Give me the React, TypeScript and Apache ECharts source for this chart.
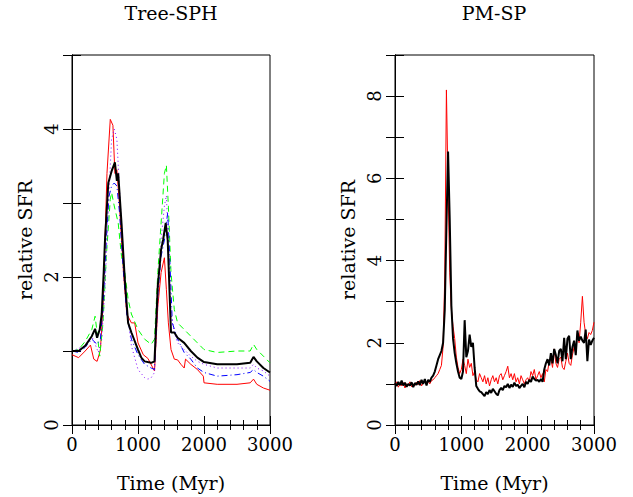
import React, { useEffect, useRef } from "react";
import * as echarts from "echarts";

const FONT = "DejaVu Serif";

// ---- Left panel (Tree-SPH) ----
const blackLT = [0,100,200,300,350,380,420,450,480,500,550,600,650,680,700,750,800,850,900,1000,1050,1100,1200,1250,1300,1350,1380,1420,1450,1500,1550,1600,1700,1800,1900,2000,2200,2500,2700,2750,2800,2900,3000];
const blackLV = [1.0,1.0,1.07,1.2,1.3,1.18,1.29,1.5,2.06,2.5,3.27,3.43,3.55,3.3,3.4,2.73,1.97,1.38,1.25,1.02,0.91,0.86,0.84,0.86,1.88,2.37,2.5,2.73,2.5,1.25,1.25,1.18,1.11,1.0,0.91,0.85,0.82,0.82,0.84,0.92,0.86,0.77,0.71];

const redLT = [0,100,200,280,330,380,430,470,530,580,620,650,680,720,780,830,900,950,1000,1080,1150,1250,1300,1350,1400,1430,1460,1500,1550,1600,1650,1700,1720,1800,1900,1990,2000,2200,2500,2700,2750,2800,2900,3000];
const redLV = [0.95,0.91,1.0,1.08,0.89,0.86,1.01,1.6,3.4,4.13,4.05,3.4,3.45,2.96,2.06,1.5,1.38,1.38,1.11,0.95,0.9,0.73,1.6,2.06,2.26,1.83,1.38,1.02,0.89,0.88,0.82,0.77,0.89,0.82,0.75,0.66,0.57,0.55,0.55,0.57,0.62,0.55,0.5,0.47];

const greenLT = [0,100,200,300,350,380,420,470,520,580,600,640,700,750,800,850,900,1000,1100,1200,1250,1300,1350,1400,1430,1460,1500,1550,1600,1700,1800,1900,2000,2200,2500,2700,2750,2800,2900,3000];
const greenLV = [1.0,1.02,1.13,1.29,1.47,1.25,0.93,1.38,2.28,3.05,3.14,2.96,2.73,2.28,2.06,1.7,1.5,1.29,1.16,1.09,1.16,2.06,2.73,3.4,3.51,2.96,2.06,1.56,1.38,1.29,1.2,1.11,1.02,0.98,1.0,1.0,1.09,1.02,0.93,0.84];

const blueLT = [0,100,200,300,380,430,470,520,560,600,640,680,720,780,830,900,1000,1100,1200,1250,1300,1350,1400,1450,1480,1520,1600,1700,1800,1900,2000,2200,2500,2700,2750,2800,2900,3000];
const blueLV = [1.0,0.98,1.05,1.16,1.09,1.16,1.6,2.5,3.09,3.23,3.27,3.23,2.87,2.06,1.5,1.16,0.95,0.82,0.77,0.75,1.78,2.28,2.5,2.87,2.28,1.38,1.16,0.98,0.89,0.77,0.71,0.66,0.68,0.71,0.75,0.71,0.66,0.59];

const purpleLT = [0,200,300,400,450,500,550,600,640,680,720,780,830,900,1000,1100,1150,1200,1250,1300,1350,1400,1430,1460,1500,1550,1600,1700,1800,1900,2000,2200,2500,2700,2750,2800,2900,3000];
const purpleLV = [1.0,1.07,1.2,0.98,1.16,1.83,2.96,3.86,4.0,3.86,3.18,2.28,1.6,1.07,0.75,0.64,0.62,0.64,0.71,1.6,2.5,2.96,3.1,2.5,1.5,1.25,1.11,1.02,0.93,0.86,0.82,0.77,0.77,0.77,0.82,0.77,0.73,0.66];

// ---- Right panel (PM-SP), sampled every 25 Myr ----
const rightStep = 25;
const blackR = [
  1.02,0.95,1.05,0.97,1.08,0.96,1.03,0.93,1.0,0.96,
  1.04,0.92,1.02,0.98,1.06,0.97,1.1,1.0,1.12,0.96,
  1.1,1.05,1.15,1.2,1.3,1.45,1.6,1.7,1.8,2.0,
  2.8,4.8,6.65,5.0,2.9,2.1,1.75,1.5,1.3,1.15,
  1.12,1.3,2.55,1.65,1.8,2.2,1.9,2.0,1.4,0.95,
  0.88,0.82,0.8,0.75,0.7,0.8,0.75,0.85,0.78,0.88,
  0.82,0.76,0.72,0.85,0.9,0.85,0.95,0.92,1.0,0.9,
  0.98,0.93,1.03,0.95,0.98,0.9,0.95,1.0,0.92,1.05,
  1.0,1.1,1.05,1.18,1.12,1.08,1.1,1.05,1.12,1.05,
  1.35,1.5,1.6,1.45,1.75,1.5,1.85,1.7,1.5,1.8,
  1.85,1.55,2.12,1.6,2.1,2.17,1.6,1.9,2.05,1.7,
  2.3,2.05,2.15,2.05,2.0,2.32,1.55,2.08,1.95,2.05,
  2.12
];
const redR = [
  0.98,1.05,0.92,1.0,0.95,1.03,0.9,1.0,0.97,1.05,
  0.93,1.0,0.96,1.04,0.98,1.08,0.95,1.02,1.05,0.98,
  1.06,1.0,1.08,1.1,1.15,1.2,1.25,1.35,1.45,1.9,
  3.6,8.15,5.8,3.7,2.8,2.4,2.1,1.65,1.4,1.25,
  1.35,1.6,1.45,1.25,1.6,1.4,1.5,1.2,1.3,1.1,
  1.05,1.25,1.15,1.05,1.2,1.0,1.15,0.95,1.1,1.2,
  1.05,1.15,1.0,1.2,1.25,1.1,1.2,1.3,1.43,1.15,
  1.25,1.1,1.25,1.05,1.15,1.0,1.2,1.1,1.0,1.1,
  1.15,1.05,1.3,1.2,1.35,1.1,1.2,1.3,1.15,1.25,
  1.05,1.35,1.3,1.55,1.6,1.4,1.85,1.5,1.4,1.6,
  1.65,1.4,1.35,1.55,1.75,1.5,1.45,1.7,1.9,1.75,
  2.25,2.0,2.5,3.13,2.5,2.2,2.1,2.25,2.2,2.3,
  2.5
];

const xTicks = { min: 0, max: 3000, interval: 1000 };
const panelTitles = ["Tree-SPH", "PM-SP"];
const yMax = [5, 9];

const zip = (t: number[], v: number[]) => t.map((x, i) => [x, v[i]]);
const grid = (v: number[]) => v.map((y, i) => [i * rightStep, y]);

const txt = { color: "#000", fontFamily: FONT, fontSize: 19 };
const tickTxt = { color: "#000", fontFamily: FONT, fontSize: 18 };

function xAxisPair(gridIndex: number) {
  const base = {
    type: "value",
    gridIndex,
    ...xTicks,
    axisLine: { show: true, lineStyle: { color: "#000", width: 1 } },
    axisTick: { show: true, inside: true, length: 9, lineStyle: { color: "#000" } },
    minorTick: { show: true, splitNumber: 5, length: 5, lineStyle: { color: "#000" } },
    splitLine: { show: false },
    minorSplitLine: { show: false },
  };
  return [
    {
      ...base,
      position: "bottom",
      axisLabel: { ...tickTxt, margin: 10, formatter: (v: number) => String(v) },
      name: "Time (Myr)",
      nameLocation: "middle",
      nameGap: 48,
      nameTextStyle: { ...txt },
    },
    { ...base, position: "top", axisLabel: { show: false } },
  ];
}

function yAxisPair(gridIndex: number, max: number) {
  const base = {
    type: "value",
    gridIndex,
    min: 0,
    max,
    interval: 1,
    axisLine: { show: true, lineStyle: { color: "#000", width: 1 } },
    axisTick: { show: true, inside: true, length: 9, lineStyle: { color: "#000" } },
    splitLine: { show: false },
  };
  return [
    {
      ...base,
      position: "left",
      axisLabel: {
        ...tickTxt,
        rotate: 90,
        margin: 12,
        formatter: (v: number) => (v % 2 === 0 ? String(v) : ""),
      },
      name: "relative SFR",
      nameLocation: "middle",
      nameRotate: 90,
      nameGap: 38,
      nameTextStyle: { ...txt },
    },
    { ...base, position: "right", axisLabel: { show: false } },
  ];
}

const lineS = (name: string, xi: number, yi: number, data: any[], color: string, width: number, type: any) => ({
  name,
  type: "line",
  xAxisIndex: xi,
  yAxisIndex: yi,
  data,
  symbol: "none",
  showSymbol: false,
  lineStyle: { color, width, type },
  itemStyle: { color },
});

export default function App() {
  const ref = useRef<HTMLDivElement>(null);
  useEffect(() => {
    const chart = echarts.init(ref.current!, null, { renderer: "svg" });
    chart.setOption({
      animation: false,
      backgroundColor: "#fff",
      grid: [
        { left: 72, top: 55, width: 198, height: 370, show: true, borderColor: "#000", borderWidth: 1, containLabel: false },
        { left: 395, top: 55, width: 199, height: 370, show: true, borderColor: "#000", borderWidth: 1, containLabel: false },
      ],
      graphic: [
        { type: "text", x: 171, y: 13, style: { text: panelTitles[0], textAlign: "center", textVerticalAlign: "middle", font: `19px "${FONT}"`, fill: "#000" } },
        { type: "text", x: 494, y: 13, style: { text: panelTitles[1], textAlign: "center", textVerticalAlign: "middle", font: `19px "${FONT}"`, fill: "#000" } },
      ],
      xAxis: [...xAxisPair(0), ...xAxisPair(1)],
      yAxis: [...yAxisPair(0, yMax[0]), ...yAxisPair(1, yMax[1])],
      series: [
        lineS("red", 0, 0, zip(redLT, redLV), "#ff0000", 1, "solid"),
        lineS("green", 0, 0, zip(greenLT, greenLV), "#00ff00", 1, [6, 4]),
        lineS("blue", 0, 0, zip(blueLT, blueLV), "#0000ff", 1, [6, 3, 1, 3]),
        lineS("purple", 0, 0, zip(purpleLT, purpleLV), "#8000ff", 1, [1, 3]),
        lineS("black", 0, 0, zip(blackLT, blackLV), "#000000", 2, "solid"),
        lineS("redR", 2, 2, grid(redR), "#ff0000", 1, "solid"),
        lineS("blackR", 2, 2, grid(blackR), "#000000", 2, "solid"),
      ],
    });
    return () => chart.dispose();
  }, []);
  return <div ref={ref} style={{ position: "absolute", left: 0, top: 0, width: 633, height: 497 }} />;
}
